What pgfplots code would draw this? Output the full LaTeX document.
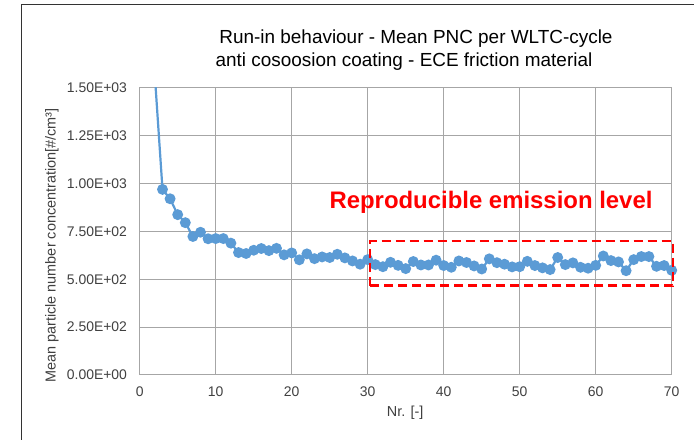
\documentclass[border=0pt]{standalone}
\usepackage{pgfplots}
\pgfplotsset{compat=1.18}
\usepackage{fontspec}
\setmainfont{Liberation Sans}
\definecolor{exblue}{HTML}{5B9BD5}
\definecolor{txt}{HTML}{404040}
\definecolor{gridc}{HTML}{A6A6A6}
\begin{document}
\begin{tikzpicture}[x=1bp,y=1bp]
\path[use as bounding box] (0,0) rectangle (694,440);
\draw[black!80, line width=1bp] (21,0) -- (21,435) -- (694,435);
\begin{axis}[
  at={(139.7bp,65bp)}, anchor=south west,
  scale only axis, width=532bp, height=287bp,
  xmin=0, xmax=70, ymin=0, ymax=1500,
  xtick={0,10,...,70},
  ytick={0,250,...,1500},
  yticklabels={0.00E+00,2.50E+02,5.00E+02,7.50E+02,1.00E+03,1.25E+03,1.50E+03},
  /pgf/number format/assume math mode=true,
  major tick length=0pt,
  grid=major,
  grid style={gridc, line width=1bp},
  axis line style={gridc, line width=1bp},
  tick label style={font=\fontsize{14}{16}\selectfont, text=txt},
  yticklabel style={anchor=east, inner sep=0pt, xshift=-12.5bp},
  xticklabel style={anchor=north, inner sep=0pt, yshift=-12bp},
  xlabel={Nr. [-]},
  ylabel={Mean particle number concentration[\#/cm³]},
  label style={font=\fontsize{14.5}{16}\selectfont, text=txt},
  xlabel style={at={(axis description cs:0.499,-0.132)}, anchor=center},
  ylabel style={at={(axis description cs:-0.165,0.451)}, anchor=center},
  clip mode=individual,
]
\addplot[exblue, line width=2.2bp, mark=*, mark size=4.3bp, mark options={fill=exblue, draw=exblue}] coordinates {
(2,1560) (3,970) (4,921) (5,838) (6,796) (7,724) (8,746) (9,712) (10,713)
(11,713) (12,689) (13,640) (14,635) (15,652) (16,661) (17,650) (18,662) (19,628) (20,638)
(21,602) (22,633) (23,608) (24,617) (25,614) (26,631) (27,612) (28,596) (29,579) (30,603)
(31,577) (32,566) (33,589) (34,573) (35,556) (36,593) (37,575) (38,575) (39,600) (40,572)
(41,563) (42,596) (43,588) (44,570) (45,554) (46,607) (47,587) (48,579) (49,565) (50,566)
(51,594) (52,572) (53,560) (54,551) (55,614) (56,577) (57,586) (58,563) (59,558) (60,573)
(61,622) (62,598) (63,591) (64,545) (65,603) (66,619) (67,619) (68,568) (69,572) (70,547)
};
\draw[red, line width=2.3bp, dash pattern=on 9bp off 5bp] (axis cs:30.3,467) rectangle (axis cs:70.2,699);
\end{axis}
\node[anchor=base, font=\fontsize{19}{22}\selectfont] at (416,396) {Run-in behaviour - Mean PNC per WLTC-cycle};
\node[anchor=base, font=\fontsize{19}{22}\selectfont] at (404,373) {anti cosoosion coating - ECE friction material};
\node[anchor=base, red, font=\bfseries\fontsize{24}{28}\selectfont] at (491,231) {Reproducible emission level};
\end{tikzpicture}
\end{document}
